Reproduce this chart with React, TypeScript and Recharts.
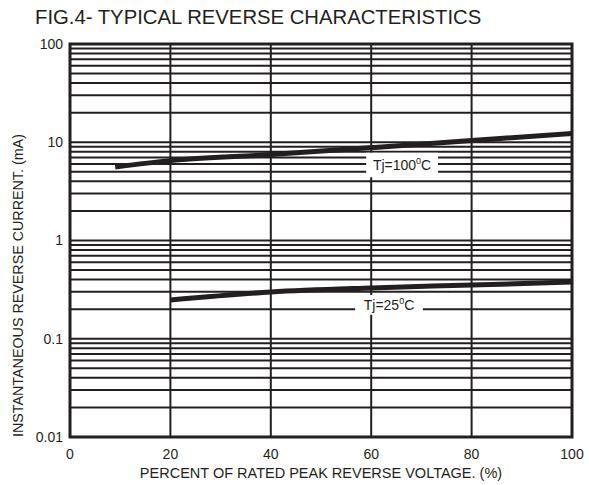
import React from "react";
import {
  LineChart,
  Line,
  XAxis,
  YAxis,
  CartesianGrid,
  ReferenceArea,
  Label,
} from "recharts";

const INK = "#231f20";
const FONT = '"Liberation Sans", Arial, Helvetica, sans-serif';

// percent of rated peak reverse voltage
const xTicks = [0, 20, 40, 60, 80, 100];
// log grid: 1..9 in every decade from 0.01 to 100
const yGrid = [
  0.01, 0.02, 0.03, 0.04, 0.05, 0.06, 0.07, 0.08, 0.09,
  0.1, 0.2, 0.3, 0.4, 0.5, 0.6, 0.7, 0.8, 0.9,
  1, 2, 3, 4, 5, 6, 7, 8, 9,
  10, 20, 30, 40, 50, 60, 70, 80, 90,
  100,
];
const yLabels = [0.01, 0.1, 1, 10, 100];

// Tj = 100°C curve (mA)
const hotX = [9, 20, 40, 60, 80, 100];
const hotY = [5.6, 6.5, 7.5, 8.8, 10.4, 12.3];
// Tj = 25°C curve (mA)
const coldX = [20, 40, 60, 80, 100];
const coldY = [0.248, 0.299, 0.329, 0.352, 0.378];

const hotData = hotX.map((x, i) => ({ x, y: hotY[i] }));
const coldData = coldX.map((x, i) => ({ x, y: coldY[i] }));

const fmtY = (v: number) => (yLabels.includes(v) ? String(v) : "");

function TjLabel({ viewBox, temp }: any) {
  if (!viewBox) return null;
  const cx = viewBox.x + viewBox.width / 2;
  const cy = viewBox.y + viewBox.height / 2;
  return (
    <text
      x={cx}
      y={cy + 5}
      textAnchor="middle"
      fill={INK}
      fontSize={14}
      fontFamily={FONT}
    >
      Tj={temp}
      <tspan fontSize={9} dy={-6}>0</tspan>
      <tspan dy={6}>C</tspan>
    </text>
  );
}

// y title runs upward from the bottom of the plot
function YTitle({ viewBox }: any) {
  if (!viewBox) return null;
  const x = 23;
  const y = viewBox.y + viewBox.height;
  return (
    <text
      x={x}
      y={y}
      transform={`rotate(-90 ${x} ${y})`}
      textAnchor="start"
      fill={INK}
      fontSize={14.3}
      fontFamily={FONT}
    >
      INSTANTANEOUS REVERSE CURRENT. (mA)
    </text>
  );
}

export default function App() {
  return (
    <div style={{ position: "absolute", left: 0, top: 0, width: 589, height: 485, background: "#fff", fontFamily: FONT }}>
      <svg width={589} height={34} style={{ position: "absolute", left: 0, top: 0 }}>
        <text x={35} y={24} fontSize={20.3} fontFamily={FONT} fill={INK}>
          FIG.4- TYPICAL REVERSE CHARACTERISTICS
        </text>
      </svg>
      <LineChart
        width={589}
        height={485}
        margin={{ top: 44, right: 17, left: 0, bottom: 0 }}
      >
        <CartesianGrid stroke={INK} strokeWidth={2} />
        <XAxis
          type="number"
          dataKey="x"
          domain={[0, 100]}
          ticks={xTicks}
          allowDataOverflow
          height={48}
          axisLine={false}
          tickLine={false}
          tickSize={0}
          tickMargin={12}
          tick={{ fill: INK, fontSize: 14, fontFamily: FONT }}
        >
          <Label
            value="PERCENT OF RATED PEAK REVERSE VOLTAGE. (%)"
            position="insideBottom"
            offset={7}
            fill={INK}
            fontSize={14.5}
            fontFamily={FONT}
          />
        </XAxis>
        <YAxis
          type="number"
          scale="log"
          domain={[0.01, 100]}
          ticks={yGrid}
          interval={0}
          allowDataOverflow
          width={70}
          axisLine={false}
          tickLine={false}
          tickSize={0}
          tickMargin={7}
          tickFormatter={fmtY}
          tick={{ fill: INK, fontSize: 14, fontFamily: FONT }}
        />
        <ReferenceArea
          x1={0}
          x2={100}
          y1={0.01}
          y2={100}
          fill="none"
          stroke={INK}
          strokeWidth={3}
          label={<YTitle />}
        />
        <ReferenceArea
          x1={59}
          x2={73.3}
          y1={4.4}
          y2={7.8}
          fill="#fff"
          fillOpacity={1}
          stroke="none"
          label={<TjLabel temp="100" />}
        />
        <ReferenceArea
          x1={56.8}
          x2={70.3}
          y1={0.175}
          y2={0.279}
          fill="#fff"
          fillOpacity={1}
          stroke="none"
          label={<TjLabel temp="25" />}
        />
        <Line
          data={hotData}
          dataKey="y"
          type="monotone"
          stroke={INK}
          strokeWidth={5}
          dot={false}
          isAnimationActive={false}
        />
        <Line
          data={coldData}
          dataKey="y"
          type="monotone"
          stroke={INK}
          strokeWidth={5}
          dot={false}
          isAnimationActive={false}
        />
      </LineChart>
    </div>
  );
}
